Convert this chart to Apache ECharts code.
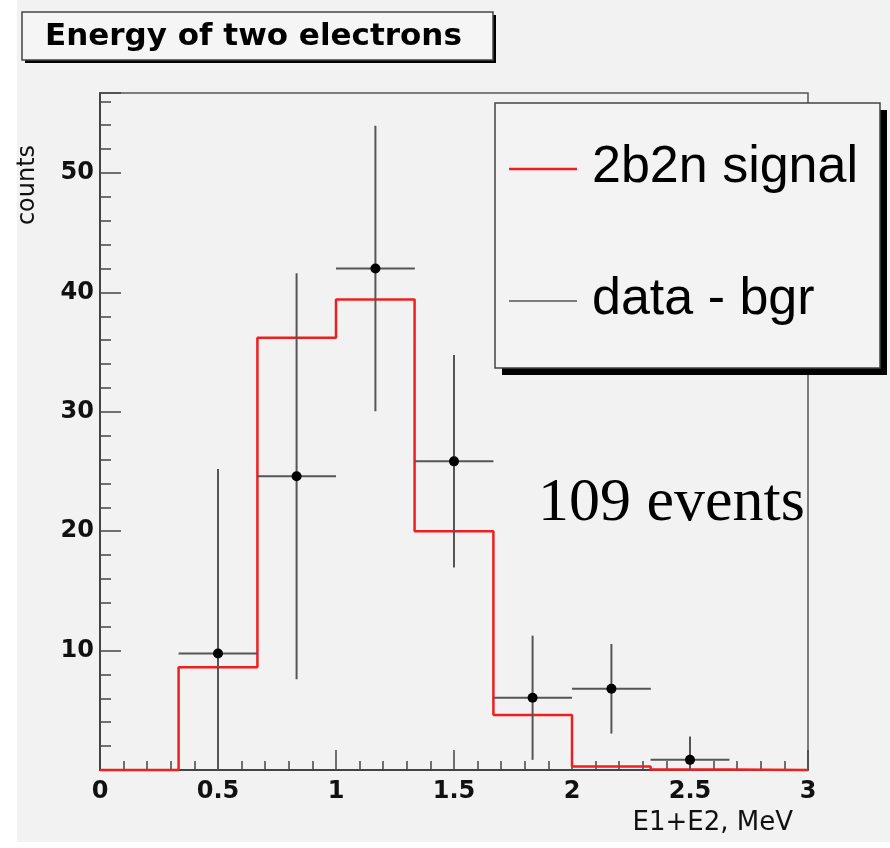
<!DOCTYPE html>
<html>
<head>
<meta charset="utf-8">
<script src="https://cdn.jsdelivr.net/npm/echarts@6/dist/echarts.min.js"></script>
<style>
  html, body { margin: 0; padding: 0; background: #ffffff; }
  #bg { position: absolute; left: 17px; top: 0; width: 873px; height: 842px; background: #f2f2f2; }
  #chart { position: absolute; left: 0; top: 0; width: 890px; height: 848px; }
</style>
</head>
<body>
<div id="bg"></div>
<div id="chart"></div>
<script>
// ---- data ----
const titleText = 'Energy of two electrons';
const xAxisTitle = 'E1+E2, MeV';
const yAxisTitle = 'counts';
const annotation = '109 events';
const signalName = '2b2n signal';
const dataName = 'data - bgr';

// histogram bin edges (MeV) and 2b2n signal content per bin
const binEdges = [0, 0.333, 0.667, 1, 1.333, 1.667, 2, 2.333, 2.667, 3];
const signalCounts = [0, 8.6, 36.2, 39.4, 20.0, 4.6, 0.3, 0.05, 0];

// data - background points: bin centre, value, x half-width, y error
const dataX = [0.5, 0.833, 1.167, 1.5, 1.833, 2.167, 2.5];
const dataY = [9.75, 24.6, 42.0, 25.85, 6.05, 6.8, 0.85];
const dataXErr = [0.167, 0.167, 0.167, 0.167, 0.167, 0.167, 0.167];
const dataYErr = [15.45, 17.0, 11.95, 8.9, 5.2, 3.75, 1.95];

const xMin = 0, xMax = 3, xInterval = 0.5;
const yMin = 0, yMax = 56.7, yInterval = 10;

// ---- build series data ----
const stepData = signalCounts.map((v, i) => [binEdges[i], v]);
stepData.push([binEdges[binEdges.length - 1], signalCounts[signalCounts.length - 1]]);
const pointData = dataX.map((x, i) => [x, dataY[i], dataXErr[i], dataYErr[i]]);

const chart = echarts.init(document.getElementById('chart'), null, { renderer: 'canvas' });

const axisColor = '#444';
const option = {
  backgroundColor: 'transparent',
  animation: false,
  grid: {
    left: 100, right: 82, top: 93, bottom: 78,
    show: true, borderColor: '#555', borderWidth: 1.5, backgroundColor: 'transparent'
  },
  xAxis: {
    type: 'value', min: xMin, max: xMax, interval: xInterval,
    axisLine: { show: true, onZero: false, lineStyle: { color: axisColor, width: 2 } },
    axisTick: { show: true, inside: true, length: 20, lineStyle: { color: axisColor, width: 1.5 } },
    minorTick: { show: true, splitNumber: 5, length: 9, lineStyle: { color: axisColor, width: 1.5 } },
    splitLine: { show: false },
    axisLabel: {
      show: true, margin: 10, showMinLabel: true, showMaxLabel: true,
      fontFamily: 'DejaVu Sans', fontWeight: 'bold', fontSize: 24, color: '#111'
    }
  },
  yAxis: {
    type: 'value', min: yMin, max: yMax, interval: yInterval,
    axisLine: { show: true, onZero: false, lineStyle: { color: axisColor, width: 2 } },
    axisTick: { show: true, inside: true, length: 21, lineStyle: { color: axisColor, width: 1.5 } },
    minorTick: { show: true, splitNumber: 5, length: 11, lineStyle: { color: axisColor, width: 1.5 } },
    splitLine: { show: false },
    axisLabel: {
      show: true, margin: 6, showMinLabel: false, showMaxLabel: false,
      fontFamily: 'DejaVu Sans', fontWeight: 'bold', fontSize: 24, color: '#111'
    }
  },
  series: [
    {
      name: signalName,
      type: 'line',
      step: 'end',
      data: stepData,
      showSymbol: false,
      symbol: 'none',
      clip: false,
      z: 5,
      lineStyle: { color: '#ee1f1f', width: 2.5 }
    },
    {
      name: dataName,
      type: 'custom',
      data: pointData,
      encode: { x: 0, y: 1 },
      z: 6,
      renderItem: function (params, api) {
        const x = api.value(0), y = api.value(1), ex = api.value(2), ey = api.value(3);
        const c = api.coord([x, y]);
        const l = api.coord([x - ex, y]);
        const r = api.coord([x + ex, y]);
        const t = api.coord([x, y + ey]);
        const b = api.coord([x, y - ey]);
        const cs = params.coordSys;
        const yb = Math.min(b[1], cs.y + cs.height);
        const yt = Math.max(t[1], cs.y);
        const stroke = { stroke: '#555', lineWidth: 2 };
        return {
          type: 'group',
          children: [
            { type: 'line', shape: { x1: l[0], y1: c[1], x2: r[0], y2: c[1] }, style: stroke },
            { type: 'line', shape: { x1: c[0], y1: yt, x2: c[0], y2: yb }, style: stroke },
            { type: 'circle', shape: { cx: c[0], cy: c[1], r: 5 }, style: { fill: '#000' } }
          ]
        };
      }
    }
  ],
  graphic: [
    // title box
    { type: 'rect', z: 10, shape: { x: 25, y: 15, width: 471, height: 48 }, style: { fill: '#000' } },
    { type: 'rect', z: 11, shape: { x: 22, y: 12, width: 471, height: 48 }, style: { fill: '#f5f5f5', stroke: '#444', lineWidth: 1.5 } },
    { type: 'text', z: 12, x: 45, y: 37, style: { text: titleText, font: 'bold 31px "DejaVu Sans"', fill: '#000', verticalAlign: 'middle', align: 'left' } },
    // axis titles
    { type: 'text', z: 12, x: 28, y: 185, rotation: Math.PI / 2, style: { text: yAxisTitle, font: '24px "DejaVu Sans"', fill: '#111', align: 'center', verticalAlign: 'middle' } },
    { type: 'text', z: 12, x: 793, y: 823, style: { text: xAxisTitle, font: '26px "DejaVu Sans"', fill: '#111', align: 'right', verticalAlign: 'middle' } },
    // annotation
    { type: 'text', z: 12, x: 538, y: 504, style: { text: annotation, font: '62px "Liberation Serif"', fill: '#000', align: 'left', verticalAlign: 'middle' } },
    // legend box
    { type: 'rect', z: 20, shape: { x: 502, y: 110, width: 385, height: 265 }, style: { fill: '#000' } },
    { type: 'rect', z: 21, shape: { x: 495, y: 103, width: 385, height: 265 }, style: { fill: '#f3f3f3', stroke: '#444', lineWidth: 1.5 } },
    { type: 'line', z: 22, shape: { x1: 509, y1: 169, x2: 577, y2: 169 }, style: { stroke: '#ee1f1f', lineWidth: 2.5 } },
    { type: 'text', z: 22, x: 592, y: 168, style: { text: signalName, font: '52px "Liberation Sans"', fill: '#000', align: 'left', verticalAlign: 'middle' } },
    { type: 'line', z: 22, shape: { x1: 509, y1: 301, x2: 577, y2: 301 }, style: { stroke: '#555', lineWidth: 1.5 } },
    { type: 'text', z: 22, x: 592, y: 300, style: { text: dataName, font: '52px "Liberation Sans"', fill: '#000', align: 'left', verticalAlign: 'middle' } }
  ]
};
chart.setOption(option);
</script>
</body>
</html>
